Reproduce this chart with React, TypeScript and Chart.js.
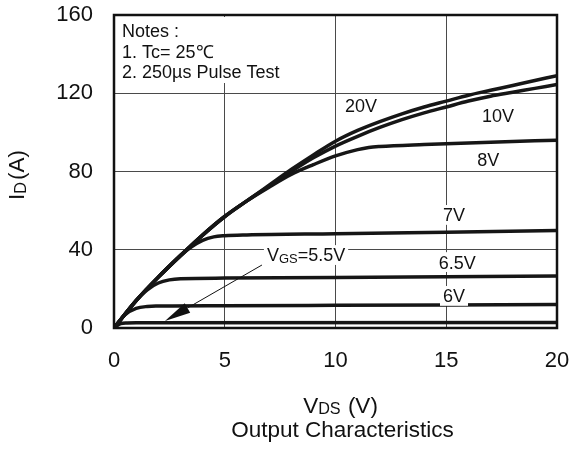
import React, { useEffect, useRef } from "react";
import { Chart, registerables } from "chart.js";

Chart.register(...registerables);

const FONT = "'Liberation Sans', Arial, Helvetica, sans-serif";

// V_DS sample points (V) and I_D values (A) for each gate voltage curve
const vgs20X = [0, 1, 2, 3, 4, 5, 6, 7, 8, 9, 10, 11, 12, 13, 14, 15, 16, 17, 18, 19, 20];
const vgs20Y = [0, 14, 26, 37, 47.5, 57, 65, 73, 81, 88.5, 95.5, 101, 105.5, 109.5, 113, 116, 119, 121.5, 124, 126.5, 129];

const vgs10X = [0, 1, 2, 3, 4, 5, 6, 7, 8, 9, 10, 11, 12, 13, 14, 15, 16, 17, 18, 19, 20];
const vgs10Y = [0, 14, 26, 37, 47.5, 57, 65, 72.5, 80, 87, 93, 98, 102.5, 106.5, 110, 113, 116, 118.5, 120.5, 122.5, 124.5];

const vgs8X = [0, 1, 2, 3, 4, 5, 6, 7, 8, 9, 10, 11, 11.5, 12, 14, 17, 20];
const vgs8Y = [0, 14, 26, 37, 47.5, 57, 65, 72, 78.5, 83.5, 88, 91.2, 92.3, 92.8, 93.8, 95, 96];

const vgs7X = [0, 1, 2, 3, 3.5, 4, 4.5, 5, 6, 10, 15, 20];
const vgs7Y = [0, 14, 26, 37, 41.5, 44.8, 46.6, 47.2, 47.6, 48.2, 49, 49.8];

const vgs65X = [0, 1, 1.5, 2, 2.5, 3, 5, 10, 15, 20];
const vgs65Y = [0, 14, 19.5, 23, 24.6, 25.2, 25.5, 25.8, 26.2, 26.6];

const vgs6X = [0, 0.5, 1, 1.5, 2, 5, 10, 20];
const vgs6Y = [0, 6.8, 10, 11, 11.2, 11.4, 11.6, 12];

const vgs55X = [0, 0.3, 0.6, 1, 20];
const vgs55Y = [0, 2.2, 2.6, 2.7, 2.8];

// axis ticks
const xTicks = [0, 5, 10, 15, 20];
const yTicks = [0, 40, 80, 120, 160];

// curve labels (text) and their anchor points in data units
const curveLabels = ["20V", "10V", "8V", "7V", "6.5V", "6V"];
const curveLabelX = [11.15, 17.34, 16.9, 15.35, 15.5, 15.35];
const curveLabelY = [113.5, 108.4, 85.9, 57.8, 33.7, 16.4];

const notesLines = ["Notes :", "1. Tc= 25\u2103", "2. 250\u00b5s Pulse Test"];

// V_GS=5.5V label and arrow (data units)
const vgsLabelPos = [8.67, 37.3];
const arrowFrom = [6.68, 32.2];
const arrowTo = [2.3, 3.6];

type Seg = { t: string; sub?: boolean; gap?: number };

function richWidth(ctx: CanvasRenderingContext2D, segs: Seg[], size: number) {
  let w = 0;
  for (const s of segs) {
    ctx.font = `${s.sub ? size * 0.72 : size}px ${FONT}`;
    w += ctx.measureText(s.t).width + (s.gap || 0);
  }
  return w;
}

function drawRich(
  ctx: CanvasRenderingContext2D,
  segs: Seg[],
  cx: number,
  cy: number,
  size: number,
  bg = false
) {
  const w = richWidth(ctx, segs, size);
  let x = cx - w / 2;
  const base = cy + size * 0.358;
  if (bg) {
    ctx.fillStyle = "#fff";
    ctx.fillRect(x - 3, cy - size * 0.55, w + 6, size * 1.1);
  }
  ctx.fillStyle = "#111";
  ctx.textAlign = "left";
  ctx.textBaseline = "alphabetic";
  for (const s of segs) {
    const sz = s.sub ? size * 0.72 : size;
    ctx.font = `${sz}px ${FONT}`;
    ctx.fillText(s.t, x, s.sub ? base + size * 0.08 : base);
    x += ctx.measureText(s.t).width + (s.gap || 0);
  }
}

const annotPlugin = {
  id: "annot",
  afterDraw(chart: any) {
    const { ctx, chartArea: a, scales } = chart;
    const xs = scales.x;
    const ys = scales.y;
    ctx.save();

    // notes block
    ctx.fillStyle = "#fff";
    ctx.fillRect(a.left + 2, a.top + 2, 172, 66);
    ctx.fillStyle = "#111";
    ctx.font = `18px ${FONT}`;
    ctx.textAlign = "left";
    ctx.textBaseline = "middle";
    notesLines.forEach((s, i) => ctx.fillText(s, a.left + 8, a.top + 17.5 + i * 20.2));

    // curve labels
    curveLabels.forEach((t, i) => {
      drawRich(ctx, [{ t }], xs.getPixelForValue(curveLabelX[i]), ys.getPixelForValue(curveLabelY[i]), 18, true);
    });

    // VGS label
    drawRich(
      ctx,
      [{ t: "V" }, { t: "GS", sub: true }, { t: "=5.5V" }],
      xs.getPixelForValue(vgsLabelPos[0]),
      ys.getPixelForValue(vgsLabelPos[1]),
      18,
      true
    );

    // arrow
    const x1 = xs.getPixelForValue(arrowFrom[0]);
    const y1 = ys.getPixelForValue(arrowFrom[1]);
    const x2 = xs.getPixelForValue(arrowTo[0]);
    const y2 = ys.getPixelForValue(arrowTo[1]);
    const ang = Math.atan2(y2 - y1, x2 - x1);
    const hl = 26;
    const hw = 5.5;
    const bx = x2 - Math.cos(ang) * hl;
    const by = y2 - Math.sin(ang) * hl;
    ctx.strokeStyle = "#111";
    ctx.lineWidth = 1;
    ctx.beginPath();
    ctx.moveTo(x1, y1);
    ctx.lineTo(bx, by);
    ctx.stroke();
    ctx.fillStyle = "#111";
    ctx.beginPath();
    ctx.moveTo(x2, y2);
    ctx.lineTo(bx + Math.sin(ang) * hw, by - Math.cos(ang) * hw);
    ctx.lineTo(bx - Math.sin(ang) * hw, by + Math.cos(ang) * hw);
    ctx.closePath();
    ctx.fill();

    // border
    ctx.strokeStyle = "#111";
    ctx.lineWidth = 2.5;
    ctx.strokeRect(a.left, a.top, a.right - a.left, a.bottom - a.top);

    // axis titles
    const midX = (a.left + a.right) / 2;
    drawRich(ctx, [{ t: "V" }, { t: "DS", sub: true, gap: 1 }, { t: " (V)" }], midX + 5, 404.5, 22.5);
    drawRich(ctx, [{ t: "Output Characteristics" }], midX + 7, 428.5, 22.5);

    ctx.translate(16, 175);
    ctx.rotate(-Math.PI / 2);
    drawRich(ctx, [{ t: "I" }, { t: "D", sub: true, gap: 2 }, { t: "(A)" }], 0, 0, 22.5);

    ctx.restore();
  },
};

function series(xsArr: number[], ysArr: number[]) {
  return xsArr.map((x, i) => ({ x, y: ysArr[i] }));
}

export default function App() {
  const ref = useRef<HTMLCanvasElement>(null);

  useEffect(() => {
    if (!ref.current) return;
    const lineStyle = {
      borderColor: "#161616",
      borderWidth: 3.5,
      pointRadius: 0,
      fill: false,
      cubicInterpolationMode: "monotone" as const,
      tension: 0.4,
    };
    const chart = new Chart(ref.current, {
      type: "line",
      data: {
        datasets: [
          { ...lineStyle, data: series(vgs20X, vgs20Y) },
          { ...lineStyle, data: series(vgs10X, vgs10Y) },
          { ...lineStyle, data: series(vgs8X, vgs8Y) },
          { ...lineStyle, data: series(vgs7X, vgs7Y) },
          { ...lineStyle, data: series(vgs65X, vgs65Y) },
          { ...lineStyle, data: series(vgs6X, vgs6Y) },
          { ...lineStyle, data: series(vgs55X, vgs55Y) },
        ],
      },
      options: {
        responsive: false,
        animation: false,
        devicePixelRatio: 1,
        layout: { padding: { top: 15, right: 15, left: 0, bottom: 0 } },
        plugins: { legend: { display: false }, tooltip: { enabled: false } },
        scales: {
          x: {
            type: "linear",
            min: xTicks[0],
            max: xTicks[xTicks.length - 1],
            afterBuildTicks: (s: any) => {
              s.ticks = xTicks.map((v) => ({ value: v }));
            },
            ticks: { font: { size: 22, family: FONT }, color: "#111", padding: 20, maxRotation: 0 },
            grid: { color: "#4a4a4a", lineWidth: 1, drawTicks: false },
            border: { display: false },
            afterFit: (s: any) => {
              s.height = 126;
              s.paddingLeft = 0;
              s.paddingRight = 0;
            },
          },
          y: {
            type: "linear",
            min: yTicks[0],
            max: yTicks[yTicks.length - 1],
            afterBuildTicks: (s: any) => {
              s.ticks = yTicks.map((v) => ({ value: v }));
            },
            ticks: { font: { size: 22, family: FONT }, color: "#111", padding: 21 },
            grid: { color: "#4a4a4a", lineWidth: 1, drawTicks: false },
            border: { display: false },
            afterFit: (s: any) => {
              s.width = 114;
              s.paddingTop = 0;
              s.paddingBottom = 0;
            },
          },
        },
      },
      plugins: [annotPlugin],
    });
    return () => chart.destroy();
  }, []);

  return (
    <div style={{ position: "fixed", left: 0, top: 0, width: 572, height: 454, background: "#fff" }}>
      <canvas ref={ref} width={572} height={454} style={{ display: "block" }} />
    </div>
  );
}
